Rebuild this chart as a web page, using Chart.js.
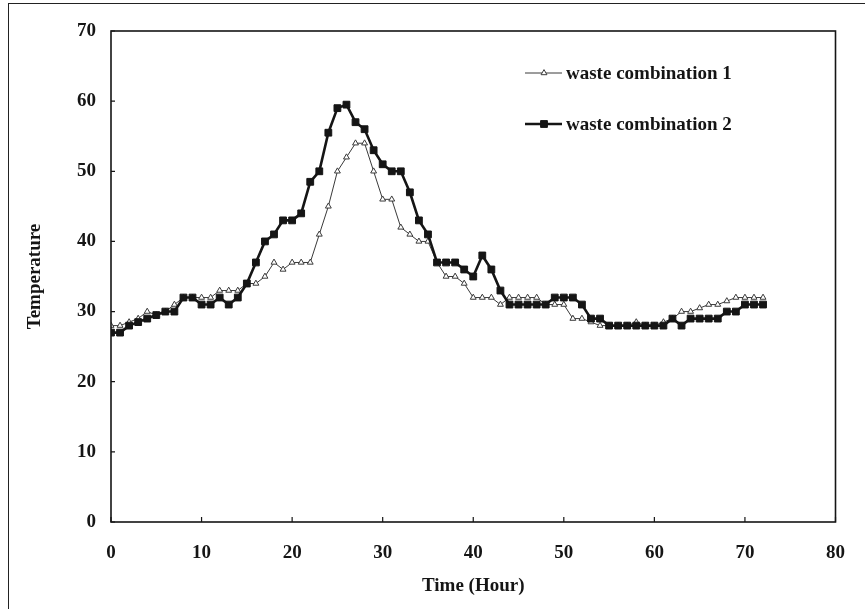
<!DOCTYPE html>
<html>
<head>
<meta charset="utf-8">
<script src="https://cdn.jsdelivr.net/npm/chart.js@4.4.0/dist/chart.umd.min.js"></script>
<style>
  html, body { margin: 0; padding: 0; background: #fff; }
  #wrap { position: relative; width: 865px; height: 609px; overflow: hidden; }
  #frame { position: absolute; left: 8px; top: 3px; width: 900px; height: 700px;
    border-left: 1.5px solid #222; border-top: 1.5px solid #222; }
  #c { position: absolute; left: 0; top: 0; }
</style>
</head>
<body>
<div id="wrap">
  <div id="frame"></div>
  <canvas id="c" width="865" height="609"></canvas>
</div>
<script>
'use strict';

// ---------- data ----------
const hours = [0, 1, 2, 3, 4, 5, 6, 7, 8, 9, 10, 11, 12, 13, 14, 15, 16, 17, 18, 19,
  20, 21, 22, 23, 24, 25, 26, 27, 28, 29, 30, 31, 32, 33, 34, 35, 36, 37, 38, 39,
  40, 41, 42, 43, 44, 45, 46, 47, 48, 49, 50, 51, 52, 53, 54, 55, 56, 57, 58, 59,
  60, 61, 62, 63, 64, 65, 66, 67, 68, 69, 70, 71, 72];

// waste combination 1 (open triangles)
const wasteComb1 = [28, 28, 28.5, 29, 30, 29.5, 30, 31, 32, 32, 32, 32, 33, 33, 33, 34, 34, 35, 37, 36,
  37, 37, 37, 41, 45, 50, 52, 54, 54, 50, 46, 46, 42, 41, 40, 40, 37, 35, 35, 34,
  32, 32, 32, 31, 32, 32, 32, 32, 31, 31, 31, 29, 29, 28.5, 28, 28, 28, 28, 28.5, 28,
  28, 28.5, 29, 30, 30, 30.5, 31, 31, 31.5, 32, 32, 32, 32];

// waste combination 2 (filled squares)
const wasteComb2 = [27, 27, 28, 28.5, 29, 29.5, 30, 30, 32, 32, 31, 31, 32, 31, 32, 34, 37, 40, 41, 43,
  43, 44, 48.5, 50, 55.5, 59, 59.5, 57, 56, 53, 51, 50, 50, 47, 43, 41, 37, 37, 37, 36,
  35, 38, 36, 33, 31, 31, 31, 31, 31, 32, 32, 32, 31, 29, 29, 28, 28, 28, 28, 28,
  28, 28, 29, 28, 29, 29, 29, 29, 30, 30, 31, 31, 31];

const seriesNames = ['waste combination 1', 'waste combination 2'];
const xTicks = [0, 10, 20, 30, 40, 50, 60, 70, 80];
const yTicks = [0, 10, 20, 30, 40, 50, 60, 70];

// ---------- styles ----------
const INK = '#151515';
const SERIF = "'Liberation Serif', 'DejaVu Serif', serif";
const font19 = { family: SERIF, size: 19, weight: 'bold' };

const pts = (ys) => hours.map((h, i) => ({ x: h, y: ys[i] }));

// box round the plot + small inward tick marks
const framePlugin = {
  id: 'frame',
  afterDraw(chart) {
    const { ctx, chartArea: a, scales } = chart;
    ctx.save();
    ctx.strokeStyle = INK;
    ctx.lineWidth = 1.6;
    ctx.strokeRect(a.left, a.top, a.right - a.left, a.bottom - a.top);
    ctx.lineWidth = 1.2;
    ctx.beginPath();
    yTicks.forEach(v => {
      const y = scales.y.getPixelForValue(v);
      ctx.moveTo(a.left, y); ctx.lineTo(a.left + 4, y);
    });
    xTicks.forEach(v => {
      const x = scales.x.getPixelForValue(v);
      ctx.moveTo(x, a.bottom); ctx.lineTo(x, a.bottom - 5);
    });
    ctx.stroke();
    ctx.restore();
  }
};

// legend drawn inside the plot, top right
const legendPlugin = {
  id: 'innerLegend',
  afterDraw(chart) {
    const ctx = chart.ctx;
    const rows = [73, 124];
    ctx.save();
    chart.data.datasets.forEach((ds, i) => {
      const y = rows[i];
      ctx.strokeStyle = ds.borderColor;
      ctx.lineWidth = ds.borderWidth;
      ctx.beginPath(); ctx.moveTo(525, y); ctx.lineTo(562, y); ctx.stroke();
      ctx.fillStyle = ds.pointBackgroundColor;
      ctx.strokeStyle = ds.pointBorderColor;
      ctx.lineWidth = ds.pointBorderWidth;
      Chart.helpers.drawPoint(ctx, { pointStyle: ds.pointStyle, radius: ds.pointRadius, borderWidth: ds.pointBorderWidth }, 544, y);
      ctx.fillStyle = INK;
      ctx.font = `bold 19px ${SERIF}`;
      ctx.textAlign = 'left';
      ctx.textBaseline = 'middle';
      ctx.fillText(ds.label, 566, y + 1);
    });
    ctx.restore();
  }
};

new Chart(document.getElementById('c'), {
  type: 'line',
  data: {
    datasets: [
      { label: seriesNames[0], data: pts(wasteComb1), order: 1,
        borderColor: '#3a3a3a', borderWidth: 1,
        pointStyle: 'triangle', pointRadius: 3.4, pointBorderWidth: 1,
        pointBackgroundColor: '#fff', pointBorderColor: '#3a3a3a', tension: 0 },
      { label: seriesNames[1], data: pts(wasteComb2), order: 0,
        borderColor: INK, borderWidth: 2.6,
        pointStyle: 'rect', pointRadius: 4.8, pointBorderWidth: 1,
        pointBackgroundColor: INK, pointBorderColor: INK, tension: 0 }
    ]
  },
  options: {
    responsive: false,
    animation: false,
    layout: { padding: { left: 0, right: 17, top: 31, bottom: 0 } },
    plugins: { legend: { display: false }, tooltip: { enabled: false } },
    scales: {
      x: {
        type: 'linear', min: 0, max: 80,
        afterFit: (s) => { s.height = 87; },
        afterBuildTicks: (s) => { s.ticks = xTicks.map(v => ({ value: v })); },
        grid: { display: false, drawTicks: false },
        border: { display: false },
        ticks: { color: INK, font: font19, padding: 20, maxRotation: 0 },
        title: { display: true, text: 'Time (Hour)', color: INK, font: font19,
          padding: { top: 0, bottom: 12 } }
      },
      y: {
        min: 0, max: 70,
        afterFit: (s) => { s.width = 111; },
        afterBuildTicks: (s) => { s.ticks = yTicks.map(v => ({ value: v })); },
        grid: { display: false, drawTicks: false },
        border: { display: false },
        ticks: { color: INK, font: font19, padding: 15 },
        title: { display: true, text: 'Temperature', color: INK, font: font19,
          padding: { top: 24, bottom: 0 } }
      }
    }
  },
  plugins: [framePlugin, legendPlugin]
});
</script>
</body>
</html>
